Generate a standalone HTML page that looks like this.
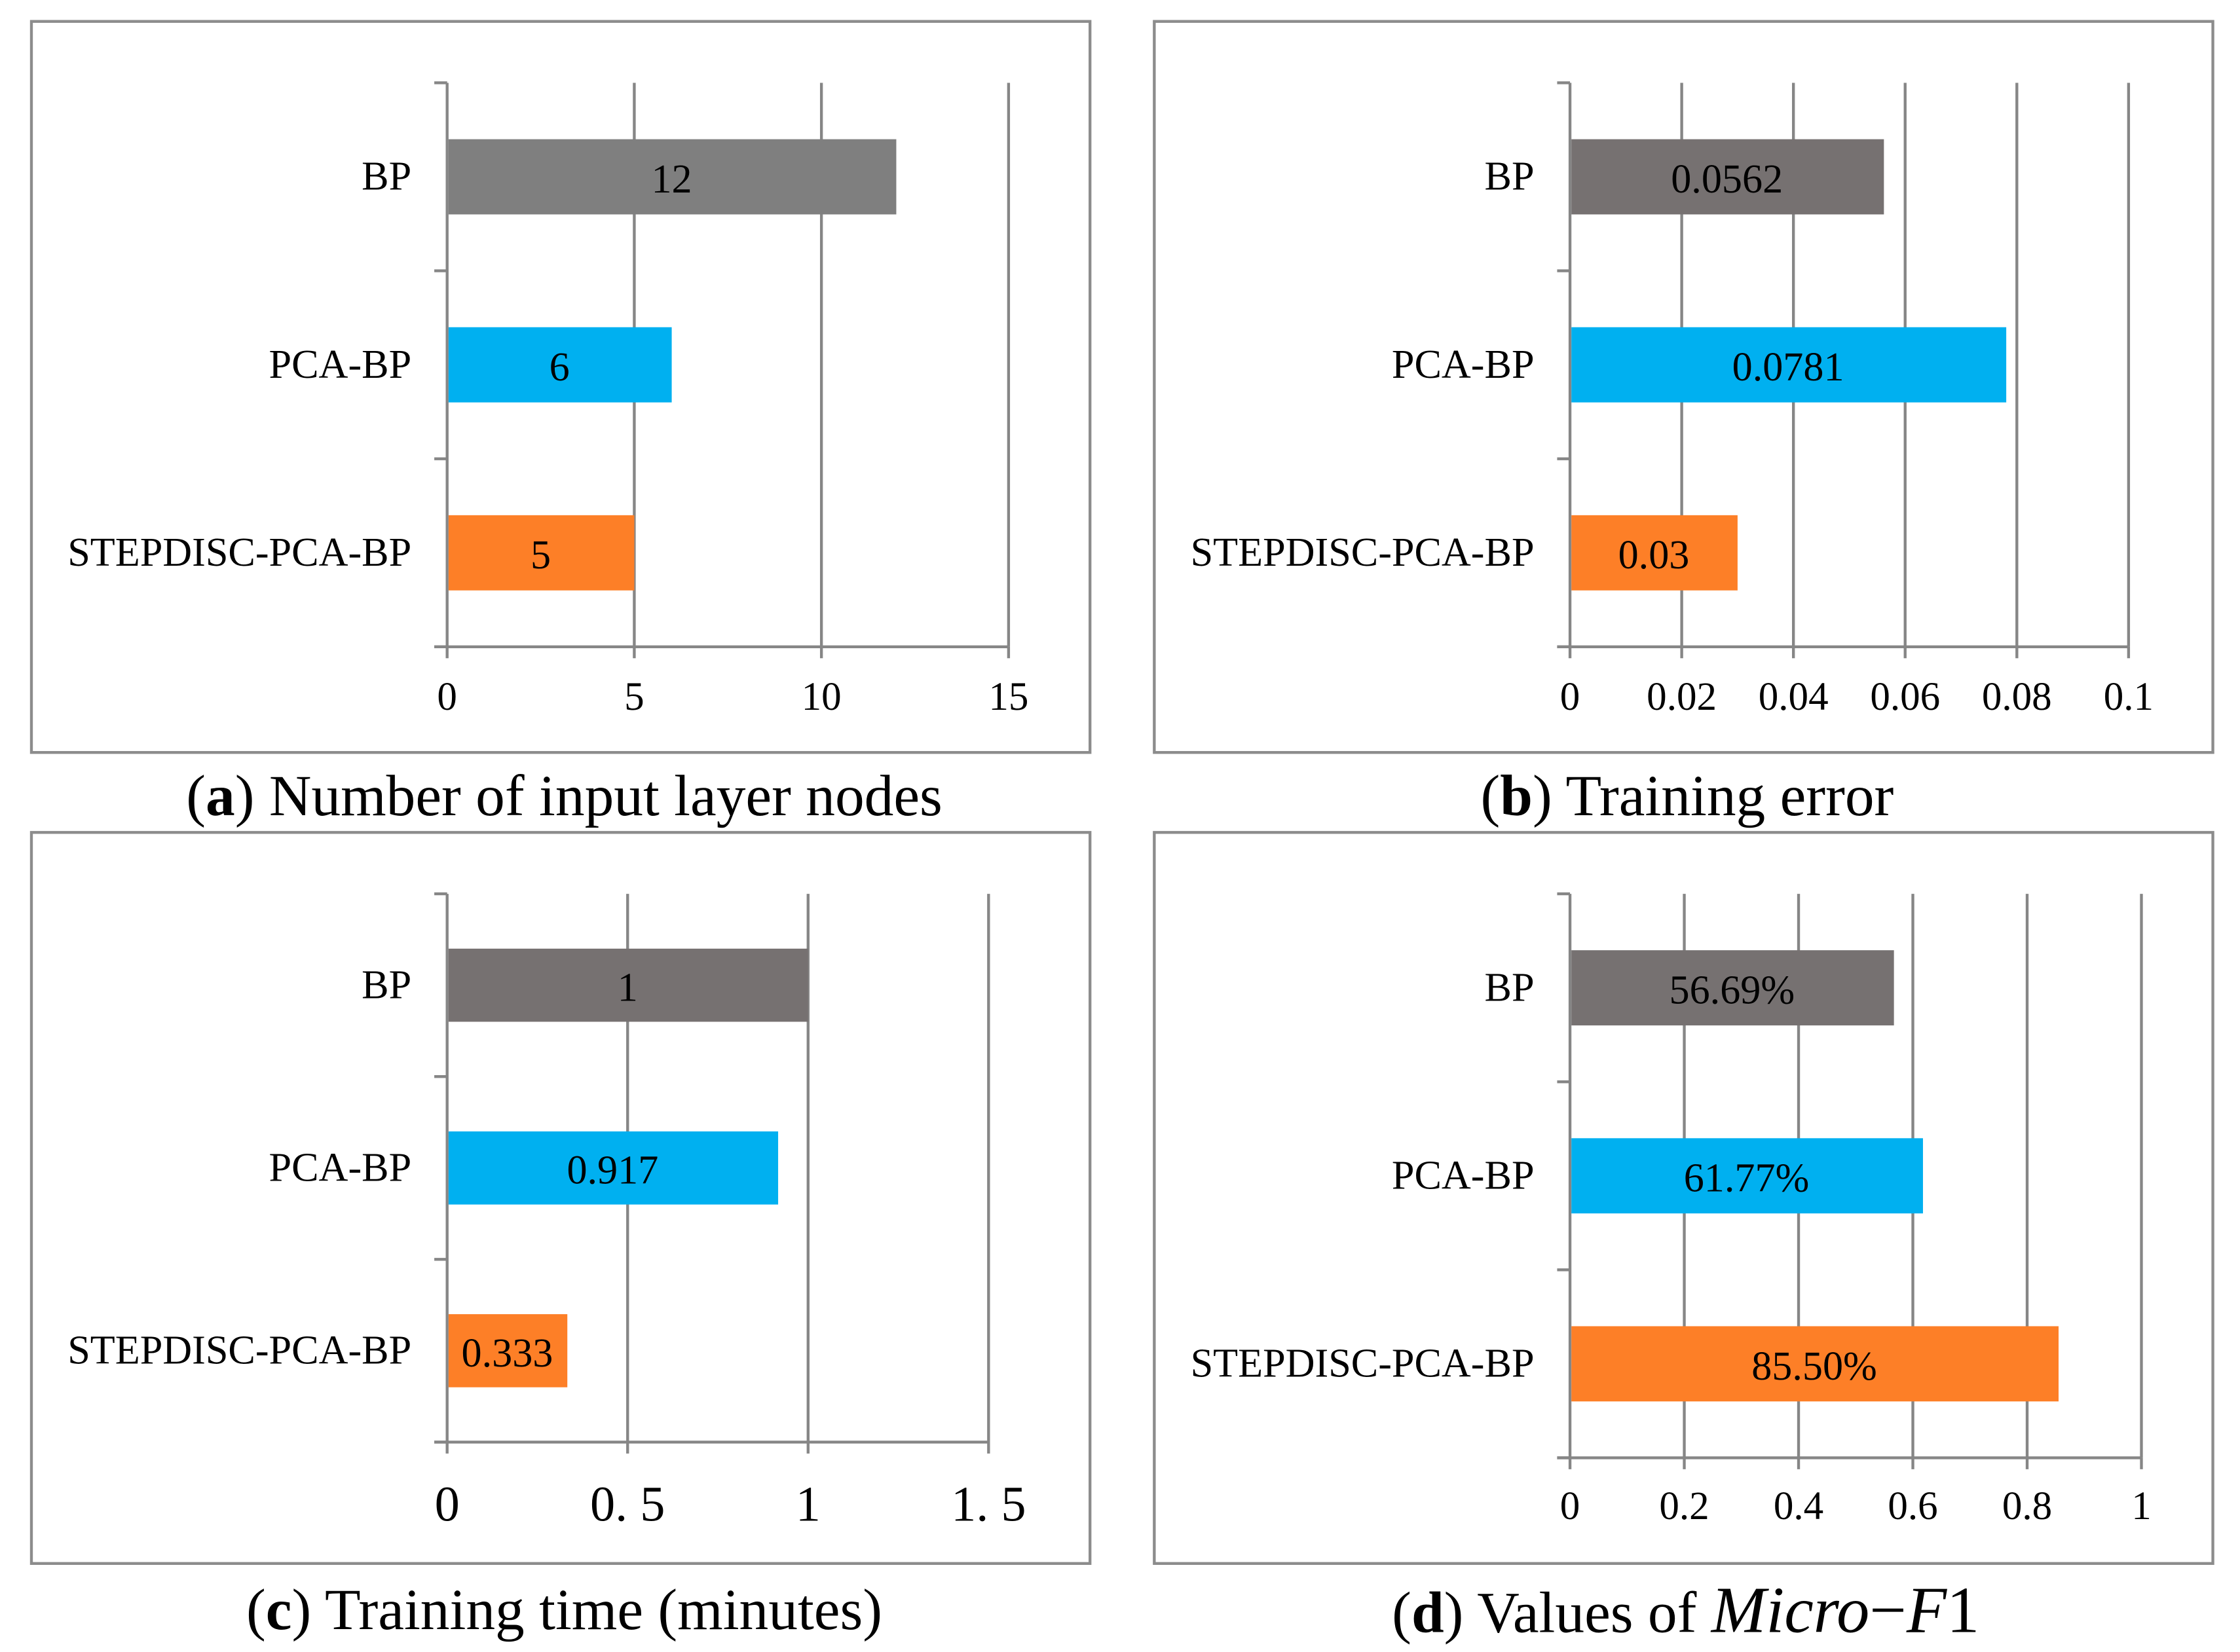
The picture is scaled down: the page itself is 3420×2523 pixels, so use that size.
<!DOCTYPE html>
<html><head><meta charset="utf-8"><style>
html,body{margin:0;padding:0;background:#fff;}
svg{display:block;font-family:"Liberation Serif",serif;}
</style></head><body>
<svg id="fig" width="3420" height="2523" viewBox="0 0 1568 1157" preserveAspectRatio="none" xmlns="http://www.w3.org/2000/svg">
<rect x="0" y="0" width="1568" height="1157" fill="#fff"/>
</svg>
<script>
const categories = ["BP", "PCA-BP", "STEPDISC-PCA-BP"];
const valuesA = [12, 6, 5];
const labelsA = ["12", "6", "5"];
const ticksA = [0, 5, 10, 15];
const tickLabelsA = ["0", "5", "10", "15"];
const valuesB = [0.0562, 0.0781, 0.03];
const labelsB = ["0.0562", "0.0781", "0.03"];
const ticksB = [0, 0.02, 0.04, 0.06, 0.08, 0.1];
const tickLabelsB = ["0", "0.02", "0.04", "0.06", "0.08", "0.1"];
const valuesC = [1, 0.917, 0.333];
const labelsC = ["1", "0.917", "0.333"];
const ticksC = [0, 0.5, 1, 1.5];
const tickLabelsC = ["0", "0. 5", "1", "1. 5"];
const valuesD = [0.5669, 0.6177, 0.855];
const labelsD = ["56.69%", "61.77%", "85.50%"];
const ticksD = [0, 0.2, 0.4, 0.6, 0.8, 1];
const tickLabelsD = ["0", "0.2", "0.4", "0.6", "0.8", "1"];

const NS = "http://www.w3.org/2000/svg";
const svg = document.getElementById("fig");
function mk(tag, attrs, parent) {
  const e = document.createElementNS(NS, tag);
  for (const k in attrs) e.setAttribute(k, attrs[k]);
  (parent || svg).appendChild(e);
  return e;
}

function panel(cfg) {
  const g = mk("g", {});
  
  
  const box = mk("rect", {x: cfg.bx, y: cfg.by, width: 741, height: 512, fill: "none", stroke: "#8c8c8c", "stroke-width": 2}, g);
  
  
  const xMin = cfg.ticks[0], xMax = cfg.ticks[cfg.ticks.length - 1];
  const xs = v => cfg.x0 + (v - xMin) / (xMax - xMin) * (cfg.x1 - cfg.x0);
  cfg.ticks.forEach((t, i) => {
    if (i === 0) return;
    const l = mk("line", {x1: xs(t), x2: xs(t), y1: cfg.yTop, y2: cfg.yBot, stroke: "#868686", "stroke-width": 2}, g);
    
    
  });
  const ya = mk("line", {x1: cfg.x0, x2: cfg.x0, y1: cfg.yTop, y2: cfg.yBot, stroke: "#868686", "stroke-width": 2}, g);
  
  
  const xa = mk("line", {x1: cfg.x0 - 9, x2: cfg.x1, y1: cfg.yBot, y2: cfg.yBot, stroke: "#868686", "stroke-width": 2}, g);
  
  
  const n = categories.length;
  const band = (cfg.yBot - cfg.yTop) / n;
  for (let i = 0; i <= n; i++) {
    const t = mk("line", {x1: cfg.x0 - 9, x2: cfg.x0, y1: cfg.yTop + i * band, y2: cfg.yTop + i * band, stroke: "#868686", "stroke-width": 2}, g);
    
    
  }
  cfg.ticks.forEach((t, i) => {
    const tk = mk("line", {x1: xs(t), x2: xs(t), y1: cfg.yBot, y2: cfg.yBot + 8, stroke: "#868686", "stroke-width": 2}, g);
    
    
    const tl = mk("text", {x: xs(t), y: cfg.tickY, "text-anchor": "middle", "font-size": cfg.tickFs, fill: "#000"}, g);
    tl.textContent = cfg.tickLabels[i];
    
    
  });
  const colors = cfg.colors;
  categories.forEach((c, i) => {
    const cy = cfg.yTop + (i + 0.5) * band;
    const bh = band * 0.4;
    const r = mk("rect", {x: cfg.x0 + 1, y: cy - bh / 2, width: xs(cfg.values[i]) - cfg.x0 - 1, height: bh, fill: colors[i]}, g);
    
    
    const cl = mk("text", {x: cfg.x0 - 25, y: cy + 9, "text-anchor": "end", "font-size": 28.5, fill: "#000"}, g);
    cl.textContent = c;
    
    
    const vl = mk("text", {x: (cfg.x0 + xs(cfg.values[i])) / 2, y: cy + 11, "text-anchor": "middle", "font-size": 28.5, fill: "#000"}, g);
    vl.textContent = cfg.labels[i];
    
    
  });
}

const c1 = ["#7f7f7f", "#00b0f0", "#fd7f27"];
const c2 = ["#767171", "#00b0f0", "#fd7f27"];
panel({name: "panel-a", bx: 22, by: 15, x0: 313, x1: 706, yTop: 58, yBot: 453, ticks: ticksA, tickLabels: tickLabelsA, values: valuesA, labels: labelsA, tickY: 497, tickFs: 28, colors: c1});
panel({name: "panel-b", bx: 808, by: 15, x0: 1099, x1: 1490, yTop: 58, yBot: 453, ticks: ticksB, tickLabels: tickLabelsB, values: valuesB, labels: labelsB, tickY: 497, tickFs: 28, colors: c2});
panel({name: "panel-c", bx: 22, by: 583, x0: 313, x1: 692, yTop: 626, yBot: 1010, ticks: ticksC, tickLabels: tickLabelsC, values: valuesC, labels: labelsC, tickY: 1065, tickFs: 35, colors: c2});
panel({name: "panel-d", bx: 808, by: 583, x0: 1099, x1: 1499, yTop: 626, yBot: 1021, ticks: ticksD, tickLabels: tickLabelsD, values: valuesD, labels: labelsD, tickY: 1064, tickFs: 28, colors: c2});
</script>
<script>
(function(){
  const NS = "http://www.w3.org/2000/svg";
  const svg = document.getElementById("fig");
  const caps = [
    [395, 571, "a", " Number of input layer nodes", "caption-a"],
    [1181, 571, "b", " Training error", "caption-b"],
    [395, 1141, "c", " Training time (minutes)", "caption-c"]
  ];
  caps.forEach(c => {
    const t = document.createElementNS(NS, "text");
    t.setAttribute("x", c[0]); t.setAttribute("y", c[1]);
    t.setAttribute("text-anchor", "middle"); t.setAttribute("font-size", 41);
    t.innerHTML = '(<tspan font-weight="bold">' + c[2] + '</tspan>)' + c[3];
    
    
    svg.appendChild(t);
  });
  const t = document.createElementNS(NS, "text");
  t.setAttribute("x", 1180); t.setAttribute("y", 1143);
  t.setAttribute("text-anchor", "middle"); t.setAttribute("font-size", 41);
  t.innerHTML = '(<tspan font-weight="bold">d</tspan>) Values of  <tspan font-style="italic" font-size="46">Micro</tspan><tspan font-size="46">\u2212</tspan><tspan font-style="italic" font-size="46">F</tspan><tspan font-size="46">1</tspan>';
  
  
  svg.appendChild(t);
})();
</script>
</body></html>
